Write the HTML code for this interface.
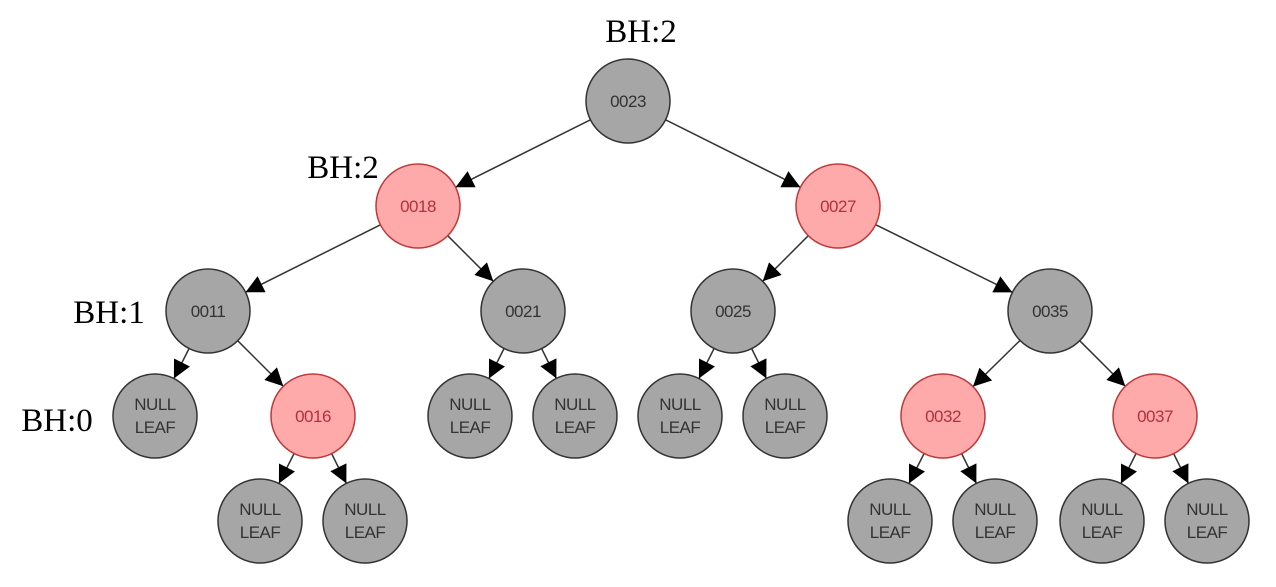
<!DOCTYPE html>
<html><head><meta charset="utf-8"><style>
body{margin:0;background:#fff;}
svg{display:block}
.n{stroke:#333;stroke-width:1.5;fill:#a6a6a6}
.r{stroke:#c0393b;stroke-width:1.5;fill:#ffaaaa}
.t{font-family:"Liberation Sans",sans-serif;font-size:17px;fill:#333;text-anchor:middle;letter-spacing:-0.5px}
.tr{fill:#b5303a}
.bh{font-family:"Liberation Serif",serif;font-size:33px;fill:#000;text-anchor:middle}
</style></head><body>
<svg id="s" width="1276" height="587" viewBox="0 0 1276 587">
<defs><marker id="a" viewBox="0 0 10 10" refX="10" refY="5" markerWidth="18" markerHeight="18" markerUnits="userSpaceOnUse" orient="auto"><path d="M0,0L10,5L0,10z" fill="#000"/></marker></defs>
<g id="lines" stroke="#333" stroke-width="1.5"></g>
<text class="bh" x="641" y="42">BH:2</text>
<text class="bh" x="343" y="178">BH:2</text>
<text class="bh" x="109" y="323">BH:1</text>
<text class="bh" x="57" y="431">BH:0</text>
<circle class="n" cx="628" cy="101" r="42"/><text class="t" x="628" y="107">0023</text>
<circle class="r" cx="418" cy="206" r="42"/><text class="t tr" x="418" y="212">0018</text>
<circle class="r" cx="838" cy="206" r="42"/><text class="t tr" x="838" y="212">0027</text>
<circle class="n" cx="208" cy="311" r="42"/><text class="t" x="208" y="317">0011</text>
<circle class="n" cx="523" cy="311" r="42"/><text class="t" x="523" y="317">0021</text>
<circle class="n" cx="733" cy="311" r="42"/><text class="t" x="733" y="317">0025</text>
<circle class="n" cx="1050" cy="311" r="42"/><text class="t" x="1050" y="317">0035</text>
<circle class="r" cx="313" cy="416" r="42"/><text class="t tr" x="313" y="422">0016</text>
<circle class="r" cx="943" cy="416" r="42"/><text class="t tr" x="943" y="422">0032</text>
<circle class="r" cx="1155" cy="416" r="42"/><text class="t tr" x="1155" y="422">0037</text>
<g>
<circle class="n" cx="155" cy="416" r="42"/><text class="t" x="155" y="410">NULL</text><text class="t" x="155" y="433">LEAF</text>
<circle class="n" cx="470" cy="416" r="42"/><text class="t" x="470" y="410">NULL</text><text class="t" x="470" y="433">LEAF</text>
<circle class="n" cx="575" cy="416" r="42"/><text class="t" x="575" y="410">NULL</text><text class="t" x="575" y="433">LEAF</text>
<circle class="n" cx="680" cy="416" r="42"/><text class="t" x="680" y="410">NULL</text><text class="t" x="680" y="433">LEAF</text>
<circle class="n" cx="785" cy="416" r="42"/><text class="t" x="785" y="410">NULL</text><text class="t" x="785" y="433">LEAF</text>
<circle class="n" cx="260" cy="521" r="42"/><text class="t" x="260" y="515">NULL</text><text class="t" x="260" y="538">LEAF</text>
<circle class="n" cx="365" cy="521" r="42"/><text class="t" x="365" y="515">NULL</text><text class="t" x="365" y="538">LEAF</text>
<circle class="n" cx="890" cy="521" r="42"/><text class="t" x="890" y="515">NULL</text><text class="t" x="890" y="538">LEAF</text>
<circle class="n" cx="995" cy="521" r="42"/><text class="t" x="995" y="515">NULL</text><text class="t" x="995" y="538">LEAF</text>
<circle class="n" cx="1102" cy="521" r="42"/><text class="t" x="1102" y="515">NULL</text><text class="t" x="1102" y="538">LEAF</text>
<circle class="n" cx="1207" cy="521" r="42"/><text class="t" x="1207" y="515">NULL</text><text class="t" x="1207" y="538">LEAF</text>
</g>
</svg>
<script>
var E=[[628,101,418,206],[628,101,838,206],[418,206,208,311],[418,206,523,311],[838,206,733,311],[838,206,1050,311],
[208,311,155,416],[208,311,313,416],[523,311,470,416],[523,311,575,416],[733,311,680,416],[733,311,785,416],
[1050,311,943,416],[1050,311,1155,416],[313,416,260,521],[313,416,365,521],[943,416,890,521],[943,416,995,521],
[1155,416,1102,521],[1155,416,1207,521]];
var g=document.getElementById('lines'),r=42,ns='http://www.w3.org/2000/svg';
E.forEach(function(e){var dx=e[2]-e[0],dy=e[3]-e[1],d=Math.hypot(dx,dy),ux=dx/d,uy=dy/d;
var l=document.createElementNS(ns,'line');l.setAttribute('x1',e[0]+ux*r);l.setAttribute('y1',e[1]+uy*r);
l.setAttribute('x2',e[2]-ux*r);l.setAttribute('y2',e[3]-uy*r);l.setAttribute('marker-end','url(#a)');g.appendChild(l);});
</script>
</body></html>
